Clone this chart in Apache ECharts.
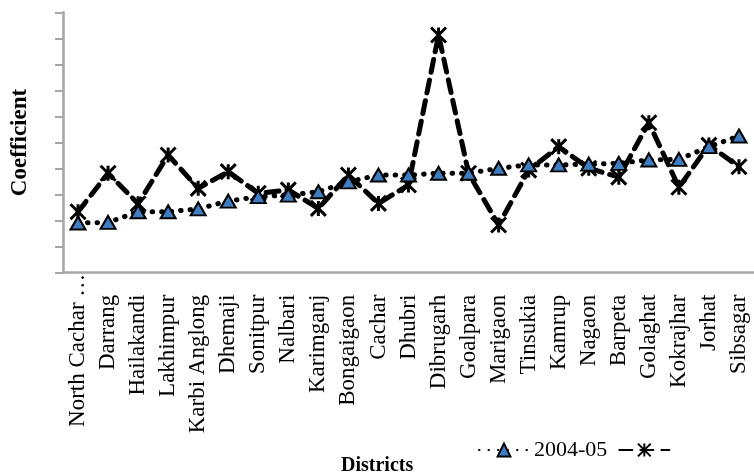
<!DOCTYPE html>
<html>
<head>
<meta charset="utf-8">
<title>District coefficients</title>
<script src="https://cdn.jsdelivr.net/npm/echarts@6/dist/echarts.min.js"></script>
<style>
  html, body { margin: 0; padding: 0; background: #fff; }
  #chart { width: 754px; height: 475px; }
</style>
</head>
<body>
<div id="chart"></div>
<script>
// Districts of Assam, in the order plotted
const districts = [
  'North Cachar Hills', 'Darrang', 'Hailakandi', 'Lakhimpur', 'Karbi Anglong',
  'Dhemaji', 'Sonitpur', 'Nalbari', 'Karimganj', 'Bongaigaon', 'Cachar',
  'Dhubri', 'Dibrugarh', 'Goalpara', 'Marigaon', 'Tinsukia', 'Kamrup',
  'Nagaon', 'Barpeta', 'Golaghat', 'Kokrajhar', 'Jorhat', 'Sibsagar'
];

// Coefficient per district, 2004-05
const coef2004 = [
  1.91, 1.93, 2.34, 2.34, 2.45, 2.75, 2.92, 2.98, 3.11, 3.49, 3.75,
  3.75, 3.82, 3.82, 4.01, 4.14, 4.14, 4.17, 4.20, 4.33, 4.35, 4.84, 5.25
];

// Coefficient per district, second period
const coefLater = [
  2.34, 3.82, 2.65, 4.52, 3.24, 3.88, 3.05, 3.18, 2.47, 3.75, 2.66,
  3.37, 9.13, 3.82, 1.83, 3.94, 4.84, 4.01, 3.67, 5.76, 3.28, 4.90, 4.07
];

const seriesNames = ['2004-05', 'Later period'];

const serif = "'Liberation Serif', 'Times New Roman', serif";
const axisGrey = '#a6a6a6';

const chart = echarts.init(document.getElementById('chart'), null, { renderer: 'canvas' });

chart.setOption({
  animation: false,
  backgroundColor: '#ffffff',
  grid: { left: 63, top: 12.3, width: 694, height: 260.4, containLabel: false },
  legend: {
    left: 473,
    top: 434,
    itemWidth: 50,
    itemHeight: 16,
    itemGap: 11,
    data: seriesNames,
    formatter: function (name) { return name === seriesNames[0] ? name : ''; },
    textStyle: { fontFamily: serif, fontSize: 22, color: '#000' }
  },
  graphic: [{
    type: 'text',
    left: 341,
    top: 456,
    style: { text: 'Districts', fontFamily: serif, fontSize: 20, fontWeight: 'bold', fill: '#000' }
  }],
  xAxis: {
    type: 'category',
    data: districts,
    boundaryGap: true,
    axisLine: { show: true, lineStyle: { color: axisGrey, width: 2.5 } },
    axisTick: { show: false },
    splitLine: { show: false },
    axisLabel: {
      interval: 0,
      rotate: 90,
      margin: 1,
      color: '#000',
      fontFamily: serif,
      fontSize: 23,
      formatter: function (v) {
        return v.length > 14 ? '{t|' + v.slice(0, 12) + ' …}' : '{n|' + v + '}';
      },
      rich: {
        n: { fontFamily: serif, fontSize: 23, color: '#000', padding: [0, 21, 0, 0] },
        t: { fontFamily: serif, fontSize: 23, color: '#000', padding: [0, 0, 0, 0] }
      }
    }
  },
  yAxis: {
    type: 'value',
    min: 0,
    max: 10,
    interval: 1,
    name: 'Coefficient',
    nameLocation: 'middle',
    nameRotate: 90,
    nameGap: 31,
    nameTextStyle: { fontFamily: serif, fontSize: 23, fontWeight: 'bold', color: '#000' },
    axisLine: { show: true, lineStyle: { color: axisGrey, width: 2.5 } },
    axisTick: { show: true, inside: false, length: 8, lineStyle: { color: axisGrey, width: 2 } },
    axisLabel: { show: false },
    splitLine: { show: false }
  },
  series: [
    {
      name: seriesNames[0],
      type: 'line',
      data: coef2004,
      z: 3,
      symbol: 'triangle',
      symbolSize: [15, 13],
      itemStyle: { color: '#3f7cc0', borderColor: '#000', borderWidth: 2 },
      lineStyle: { color: '#000', width: 5, type: [0.5, 9], cap: 'round' }
    },
    {
      name: seriesNames[1],
      type: 'line',
      data: coefLater,
      z: 2,
      symbol: 'path://M0,0L10,10M10,0L0,10M5,0L5,10',
      symbolSize: 15,
      itemStyle: { color: 'rgba(0,0,0,0)', borderColor: '#000', borderWidth: 3 },
      lineStyle: { color: '#000', width: 5, type: [13, 8], cap: 'round' }
    }
  ]
});
</script>
</body>
</html>
